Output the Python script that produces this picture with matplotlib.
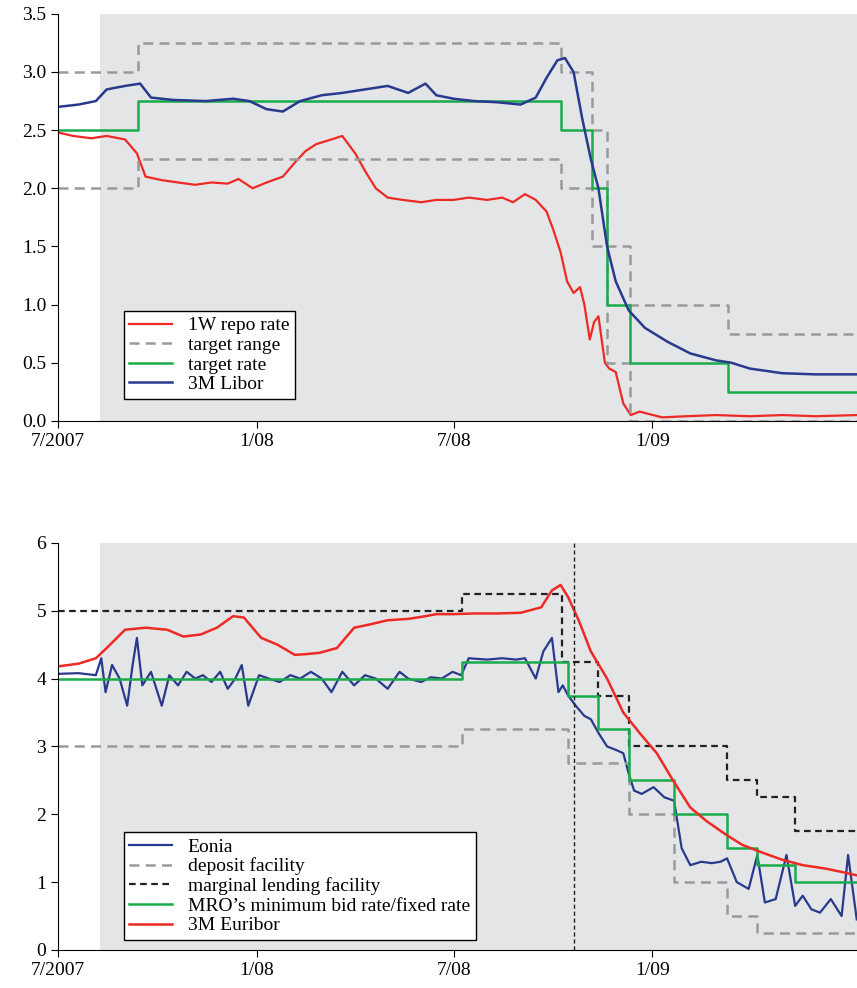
import matplotlib
matplotlib.use("Agg")
import matplotlib.pyplot as plt
import matplotlib.dates as mdates
import numpy as np
from datetime import datetime

plt.rcParams['font.family'] = ['Liberation Serif', 'DejaVu Serif']

def d(s):
    return datetime.strptime(s, "%Y-%m-%d")

start, end = d("2007-07-01"), d("2009-07-09")
shade_start = d("2007-08-09")

# ---- top panel data (SNB) ----
tr_dates = ["2007-07-01", "2007-09-13", "2008-10-08", "2008-11-06", "2008-11-20", "2008-12-11", "2009-03-12"]
tr_rate = [2.5, 2.75, 2.5, 2.0, 1.0, 0.5, 0.25]
tr_upper = [3.0, 3.25, 3.0, 2.5, 1.5, 1.0, 0.75]
tr_lower = [2.0, 2.25, 2.0, 1.5, 0.5, 0.0, 0.0]

repo_dates = ["2007-07-01", "2007-07-15", "2007-08-01", "2007-08-15", "2007-09-01", "2007-09-12", "2007-09-20",
              "2007-10-05", "2007-10-20", "2007-11-05", "2007-11-20", "2007-12-05", "2007-12-15", "2007-12-28",
              "2008-01-10", "2008-01-25", "2008-02-05", "2008-02-15", "2008-02-25", "2008-03-10", "2008-03-20",
              "2008-04-01", "2008-04-10", "2008-04-20", "2008-05-01", "2008-05-15", "2008-06-01", "2008-06-15",
              "2008-07-01", "2008-07-15", "2008-08-01", "2008-08-15", "2008-08-25", "2008-09-05", "2008-09-15",
              "2008-09-25", "2008-10-01", "2008-10-08", "2008-10-14", "2008-10-20", "2008-10-26", "2008-10-30",
              "2008-11-04", "2008-11-08", "2008-11-12", "2008-11-18", "2008-11-22", "2008-11-28", "2008-12-05",
              "2008-12-12", "2008-12-20", "2009-01-10", "2009-02-01", "2009-03-01", "2009-04-01", "2009-05-01",
              "2009-06-01", "2009-07-09"]
repo_rate = [2.48, 2.45, 2.43, 2.45, 2.42, 2.3, 2.1,
             2.07, 2.05, 2.03, 2.05, 2.04, 2.08, 2.0,
             2.05, 2.1, 2.22, 2.32, 2.38, 2.42, 2.45,
             2.3, 2.15, 2.0, 1.92, 1.9, 1.88, 1.9,
             1.9, 1.92, 1.9, 1.92, 1.88, 1.95, 1.9,
             1.8, 1.65, 1.45, 1.2, 1.1, 1.15, 1.0,
             0.7, 0.85, 0.9, 0.5, 0.45, 0.42, 0.15,
             0.05, 0.08, 0.03, 0.04, 0.05, 0.04, 0.05,
             0.04, 0.05]

libor_dates = ["2007-07-01", "2007-07-20", "2007-08-05", "2007-08-15", "2007-09-01", "2007-09-15", "2007-09-25",
               "2007-10-15", "2007-11-15", "2007-12-10", "2007-12-25", "2008-01-10", "2008-01-25", "2008-02-10",
               "2008-03-01", "2008-03-20", "2008-04-10", "2008-05-01", "2008-05-20", "2008-06-05", "2008-06-15",
               "2008-07-01", "2008-07-20", "2008-08-10", "2008-09-01", "2008-09-15", "2008-09-25", "2008-10-05",
               "2008-10-12", "2008-10-20", "2008-10-28", "2008-11-05", "2008-11-12", "2008-11-20", "2008-11-28",
               "2008-12-10", "2008-12-25", "2009-01-15", "2009-02-05", "2009-03-01", "2009-03-15", "2009-04-01",
               "2009-05-01", "2009-06-01", "2009-07-09"]
libor_rate = [2.7, 2.72, 2.75, 2.85, 2.88, 2.9, 2.78,
              2.76, 2.75, 2.77, 2.75, 2.68, 2.66, 2.75,
              2.8, 2.82, 2.85, 2.88, 2.82, 2.9, 2.8,
              2.77, 2.75, 2.74, 2.72, 2.78, 2.95, 3.1,
              3.12, 3.0, 2.6, 2.25, 2.0, 1.5, 1.2,
              0.95, 0.8, 0.68, 0.58, 0.52, 0.5, 0.45,
              0.41, 0.4, 0.4]

# ---- bottom panel data (ECB) ----
mro_dates = ["2007-07-01", "2008-07-09", "2008-10-15", "2008-11-12", "2008-12-10", "2009-01-21", "2009-03-11", "2009-04-08", "2009-05-13"]
mro_rate = [4.0, 4.25, 3.75, 3.25, 2.5, 2.0, 1.5, 1.25, 1.0]
dep_dates = ["2007-07-01", "2008-07-09", "2008-10-15", "2008-12-10", "2009-01-21", "2009-03-11", "2009-04-08"]
dep_rate = [3.0, 3.25, 2.75, 2.0, 1.0, 0.5, 0.25]
mlf_dates = ["2007-07-01", "2008-07-09", "2008-10-09", "2008-11-12", "2008-12-10", "2009-03-11", "2009-04-08", "2009-05-13"]
mlf_rate = [5.0, 5.25, 4.25, 3.75, 3.0, 2.5, 2.25, 1.75]

eonia_dates = ["2007-07-01", "2007-07-20", "2007-08-05", "2007-08-10", "2007-08-14", "2007-08-20", "2007-08-27",
               "2007-09-03", "2007-09-08", "2007-09-12", "2007-09-17", "2007-09-25", "2007-10-05", "2007-10-12",
               "2007-10-20", "2007-10-28", "2007-11-05", "2007-11-12", "2007-11-20", "2007-11-28", "2007-12-05",
               "2007-12-12", "2007-12-18", "2007-12-24", "2008-01-03", "2008-01-12", "2008-01-22", "2008-02-01",
               "2008-02-10", "2008-02-20", "2008-03-01", "2008-03-10", "2008-03-20", "2008-03-31", "2008-04-10",
               "2008-04-20", "2008-05-01", "2008-05-12", "2008-05-20", "2008-06-01", "2008-06-10", "2008-06-20",
               "2008-06-30", "2008-07-08", "2008-07-15", "2008-08-01", "2008-08-15", "2008-08-28", "2008-09-05",
               "2008-09-15", "2008-09-22", "2008-09-30", "2008-10-06", "2008-10-10", "2008-10-15", "2008-10-22",
               "2008-10-30", "2008-11-05", "2008-11-12", "2008-11-20", "2008-11-28", "2008-12-05", "2008-12-10",
               "2008-12-15", "2008-12-22", "2009-01-02", "2009-01-12", "2009-01-21", "2009-01-28", "2009-02-05",
               "2009-02-15", "2009-02-25", "2009-03-05", "2009-03-11", "2009-03-20", "2009-03-31", "2009-04-08",
               "2009-04-15", "2009-04-25", "2009-05-05", "2009-05-13", "2009-05-20", "2009-05-28", "2009-06-05",
               "2009-06-15", "2009-06-25", "2009-07-01", "2009-07-09"]
eonia_rate = [4.07, 4.08, 4.05, 4.3, 3.8, 4.2, 4.0,
              3.6, 4.2, 4.6, 3.9, 4.1, 3.6, 4.05,
              3.9, 4.1, 4.0, 4.05, 3.95, 4.1, 3.85,
              4.0, 4.2, 3.6, 4.05, 4.0, 3.95, 4.05,
              4.0, 4.1, 4.0, 3.8, 4.1, 3.9, 4.05,
              4.0, 3.85, 4.1, 4.0, 3.95, 4.02, 4.0,
              4.1, 4.05, 4.3, 4.28, 4.3, 4.28, 4.3,
              4.0, 4.4, 4.6, 3.8, 3.9, 3.75, 3.6,
              3.45, 3.4, 3.2, 3.0, 2.95, 2.9, 2.6,
              2.35, 2.3, 2.4, 2.25, 2.2, 1.5, 1.25,
              1.3, 1.28, 1.3, 1.35, 1.0, 0.9, 1.4,
              0.7, 0.75, 1.4, 0.65, 0.8, 0.6, 0.55,
              0.75, 0.5, 1.4, 0.45]

eur_dates = ["2007-07-01", "2007-07-20", "2007-08-05", "2007-08-15", "2007-09-01", "2007-09-20", "2007-10-10",
             "2007-10-25", "2007-11-10", "2007-11-25", "2007-12-10", "2007-12-20", "2008-01-05", "2008-01-20",
             "2008-02-05", "2008-02-15", "2008-02-28", "2008-03-15", "2008-03-31", "2008-04-15", "2008-05-01",
             "2008-05-20", "2008-06-05", "2008-06-15", "2008-07-01", "2008-07-20", "2008-08-10", "2008-09-01",
             "2008-09-20", "2008-09-30", "2008-10-08", "2008-10-15", "2008-10-25", "2008-11-05", "2008-11-20",
             "2008-12-05", "2008-12-20", "2009-01-05", "2009-01-20", "2009-02-05", "2009-02-20", "2009-03-10",
             "2009-03-25", "2009-04-10", "2009-05-01", "2009-05-20", "2009-06-10", "2009-06-25", "2009-07-09"]
eur_rate = [4.18, 4.22, 4.3, 4.45, 4.72, 4.75, 4.72,
            4.62, 4.65, 4.75, 4.92, 4.9, 4.6, 4.5,
            4.35, 4.36, 4.38, 4.45, 4.75, 4.8, 4.86,
            4.88, 4.92, 4.95, 4.95, 4.96, 4.96, 4.97,
            5.05, 5.3, 5.38, 5.2, 4.85, 4.4, 4.0,
            3.5, 3.2, 2.9, 2.5, 2.1, 1.9, 1.7,
            1.55, 1.45, 1.33, 1.25, 1.2, 1.15, 1.1]

crisis_line = "2008-10-20"

# ---- figure ----
fig = plt.figure(figsize=(8.57, 9.88), dpi=100)
ax1 = fig.add_axes([0.0677, 0.574, 0.932, 0.412])
ax2 = fig.add_axes([0.0677, 0.0385, 0.932, 0.412])

grey = '#9a9a9a'
for ax in (ax1, ax2):
    ax.axvspan(shade_start, end, color='#e4e5e7', lw=0, zorder=0)
    ax.set_xlim(start, end)
    ax.spines['top'].set_visible(False)
    ax.spines['right'].set_visible(False)
    ax.xaxis.set_major_locator(mdates.MonthLocator(bymonth=[1, 7]))
    ax.tick_params(direction='out', labelsize=14, length=5)
    ax.set_xticks([d("2007-07-01"), d("2008-01-01"), d("2008-07-01"), d("2009-01-01")])
    ax.set_xticklabels(["7/2007", "1/08", "7/08", "1/09"])

def steps(ax, ds, vs, **kw):
    x = [d(s) for s in ds] + [end]
    y = vs + [vs[-1]]
    ax.step(x, y, where='post', **kw)

ax1.plot([d(s) for s in repo_dates], repo_rate, color='#ee2a24', lw=1.6, label='1W repo rate')
steps(ax1, tr_dates, tr_upper, color=grey, lw=1.8, ls=(0, (4, 2.5)), label='target range')
steps(ax1, tr_dates, tr_lower, color=grey, lw=1.8, ls=(0, (4, 2.5)))
steps(ax1, tr_dates, tr_rate, color='#1aab4a', lw=1.8, label='target rate')
ax1.plot([d(s) for s in libor_dates], libor_rate, color='#283a8e', lw=1.8, label='3M Libor')
ax1.set_ylim(0, 3.5)
ax1.set_yticks(np.arange(0, 3.51, 0.5))
ax1.set_yticklabels([f"{v:.1f}" for v in np.arange(0, 3.51, 0.5)])
ax1.legend(loc='lower left', bbox_to_anchor=(0.07, 0.03), fontsize=14, frameon=True, fancybox=False,
           edgecolor='black', framealpha=1, borderpad=0.3, labelspacing=0.1, handlelength=2.2)

ax2.plot([d(s) for s in eonia_dates], eonia_rate, color='#283a8e', lw=1.6, label='Eonia')
steps(ax2, dep_dates, dep_rate, color=grey, lw=1.8, ls=(0, (4, 2.5)), label='deposit facility')
steps(ax2, mlf_dates, mlf_rate, color='#222222', lw=1.6, ls=(0, (3, 2)), label='marginal lending facility')
steps(ax2, mro_dates, mro_rate, color='#1aab4a', lw=1.8, label='MRO\u2019s minimum bid rate/fixed rate')
ax2.plot([d(s) for s in eur_dates], eur_rate, color='#ee2a24', lw=1.8, label='3M Euribor')
ax2.axvline(d(crisis_line), color='#222222', lw=1.0, ls=(0, (3, 2)))
ax2.set_ylim(0, 6)
ax2.set_yticks(range(7))
ax2.legend(loc='lower left', bbox_to_anchor=(0.07, 0.0), fontsize=14, frameon=True, fancybox=False,
           edgecolor='black', framealpha=1, borderpad=0.3, labelspacing=0.1, handlelength=2.2)

fig.savefig("out.png", dpi=100)
